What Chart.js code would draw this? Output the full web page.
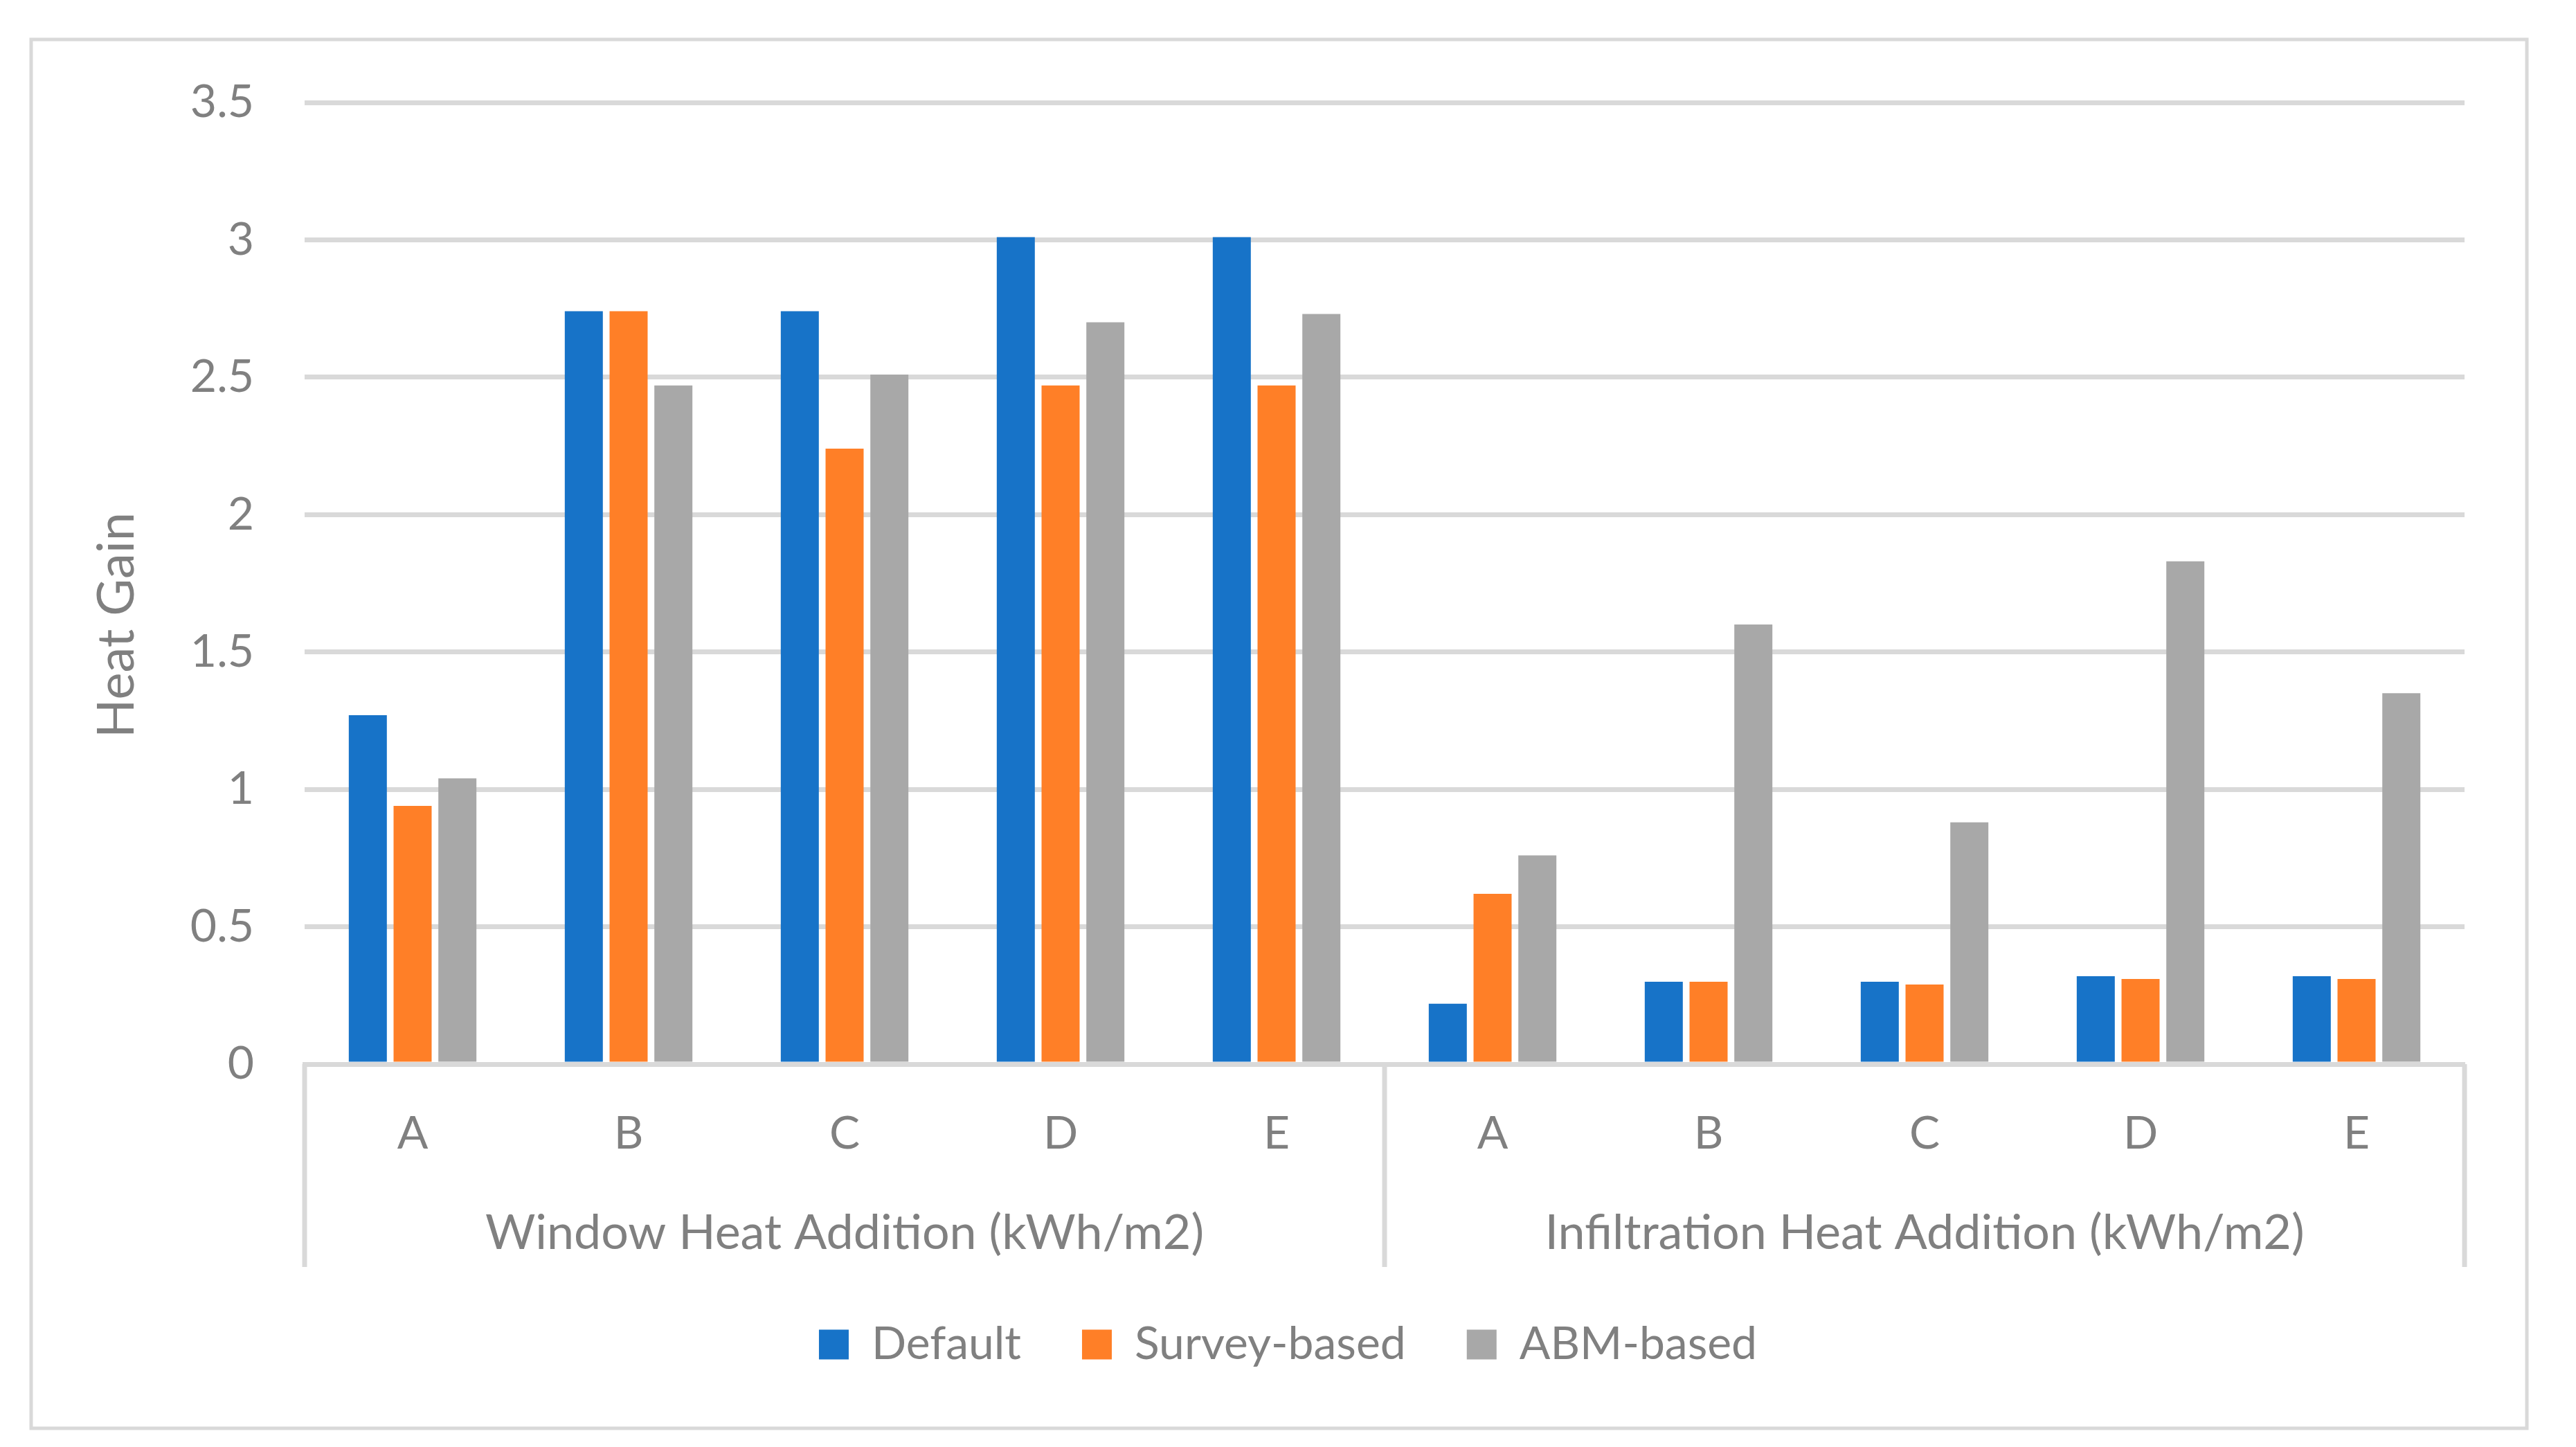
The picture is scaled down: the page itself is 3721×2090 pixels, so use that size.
<!DOCTYPE html>
<html>
<head>
<meta charset="utf-8">
<title>Heat Gain</title>
<script src="https://cdn.jsdelivr.net/npm/chart.js@4.4.1/dist/chart.umd.min.js"></script>
<style>
    html, body { margin: 0; padding: 0; background: #ffffff; }
    #heatChart { display: block; }
</style>
</head>
<body>
<canvas id="heatChart" width="3721" height="2090" style="width:3721px;height:2090px"></canvas>
<script>
// Data
const CATEGORIES = ['A', 'B', 'C', 'D', 'E', 'A', 'B', 'C', 'D', 'E'];
const GROUP_LABELS = ['Window Heat Addition (kWh/m2)', 'Infiltration Heat Addition (kWh/m2)'];
const GROUP_SIZES = [5, 5];
const SERIES_NAMES = ['Default', 'Survey-based', 'ABM-based'];
const DEFAULT_VALUES = [1.27, 2.74, 2.74, 3.01, 3.01, 0.22, 0.30, 0.30, 0.32, 0.32];
const SURVEY_VALUES = [0.94, 2.74, 2.24, 2.47, 2.47, 0.62, 0.30, 0.29, 0.31, 0.31];
const ABM_VALUES = [1.04, 2.47, 2.51, 2.70, 2.73, 0.76, 1.60, 0.88, 1.83, 1.35];
const Y_MIN = 0;
const Y_MAX = 3.5;
const Y_STEP = 0.5;
const Y_TITLE = 'Heat Gain';

// Colors and fonts
const BLUE = '#1773C8';
const ORANGE = '#FF7F27';
const GREY = '#A8A8A8';
const TEXT_GREY = '#808080';
const LINE_GREY = '#D9D9D9';
const FONT = 'Lato';

// Depth of the two-level category axis below the plot
const GROUP_AXIS_DEPTH = 293;

// Background, outer frame, group axis and y title
const decorPlugin = {
    id: 'decor',
    beforeDraw(chart) {
        const ctx = chart.ctx;
        ctx.save();
        ctx.fillStyle = '#ffffff';
        ctx.fillRect(0, 0, chart.width, chart.height);
        ctx.strokeStyle = LINE_GREY;
        ctx.lineWidth = 5;
        ctx.strokeRect(45, 57, 3605, 2006);
        ctx.restore();
    },
    afterDraw(chart) {
        const ctx = chart.ctx;
        const x = chart.scales.x;
        ctx.save();

        // Separators of the two category groups
        const edges = [x.left];
        let start = 0;
        GROUP_SIZES.forEach((size, i) => {
            const last = start + size - 1;
            if (i < GROUP_SIZES.length - 1) {
                edges.push((x.getPixelForValue(last) + x.getPixelForValue(last + 1)) / 2);
            }
            start += size;
        });
        edges.push(x.right);

        ctx.strokeStyle = LINE_GREY;
        ctx.lineWidth = 7;
        edges.forEach(px => {
            ctx.beginPath();
            ctx.moveTo(px, x.top);
            ctx.lineTo(px, x.top + GROUP_AXIS_DEPTH);
            ctx.stroke();
        });

        // Group labels
        ctx.fillStyle = TEXT_GREY;
        ctx.font = '70px ' + FONT;
        ctx.textAlign = 'center';
        ctx.textBaseline = 'alphabetic';
        start = 0;
        GROUP_SIZES.forEach((size, i) => {
            const cx = (x.getPixelForValue(start) + x.getPixelForValue(start + size - 1)) / 2;
            ctx.fillText(GROUP_LABELS[i], cx, x.top + 267);
            start += size;
        });

        // Y axis title
        ctx.font = '74px ' + FONT;
        ctx.translate(193, 903);
        ctx.rotate(-Math.PI / 2);
        ctx.fillText(Y_TITLE, 0, 0);
        ctx.restore();
    }
};

function makeDataset(label, values, color) {
    return {
        label: label,
        data: values,
        backgroundColor: color,
        borderWidth: 0,
        categoryPercentage: 0.622,
        barPercentage: 0.85
    };
}

function createChart() {
    const ctx = document.getElementById('heatChart').getContext('2d');
    return new Chart(ctx, {
        type: 'bar',
        data: {
            labels: CATEGORIES,
            datasets: [
                makeDataset(SERIES_NAMES[0], DEFAULT_VALUES, BLUE),
                makeDataset(SERIES_NAMES[1], SURVEY_VALUES, ORANGE),
                makeDataset(SERIES_NAMES[2], ABM_VALUES, GREY)
            ]
        },
        options: {
            responsive: false,
            animation: false,
            devicePixelRatio: 1,
            layout: {
                padding: { top: 148, right: 161, bottom: 105, left: 161 }
            },
            plugins: {
                tooltip: { enabled: false },
                legend: {
                    position: 'bottom',
                    labels: {
                        boxWidth: 43,
                        boxHeight: 43,
                        padding: 88,
                        color: TEXT_GREY,
                        font: { family: FONT, size: 66 }
                    }
                }
            },
            scales: {
                x: {
                    grid: { display: false, drawTicks: false },
                    border: { display: true, color: LINE_GREY, width: 6 },
                    ticks: {
                        color: TEXT_GREY,
                        font: { family: FONT, size: 66 },
                        padding: 61,
                        maxRotation: 0,
                        autoSkip: false
                    },
                    afterFit(scale) { scale.height = GROUP_AXIS_DEPTH - 9; }
                },
                y: {
                    min: Y_MIN,
                    max: Y_MAX,
                    grid: { color: LINE_GREY, lineWidth: 7, drawTicks: false },
                    border: { display: false },
                    ticks: {
                        stepSize: Y_STEP,
                        color: TEXT_GREY,
                        font: { family: FONT, size: 66 },
                        padding: 73,
                        callback: value => String(Number(value))
                    },
                    afterFit(scale) { scale.width = 279; }
                }
            }
        },
        plugins: [decorPlugin]
    });
}

document.addEventListener('DOMContentLoaded', createChart);
</script>
</body>
</html>
